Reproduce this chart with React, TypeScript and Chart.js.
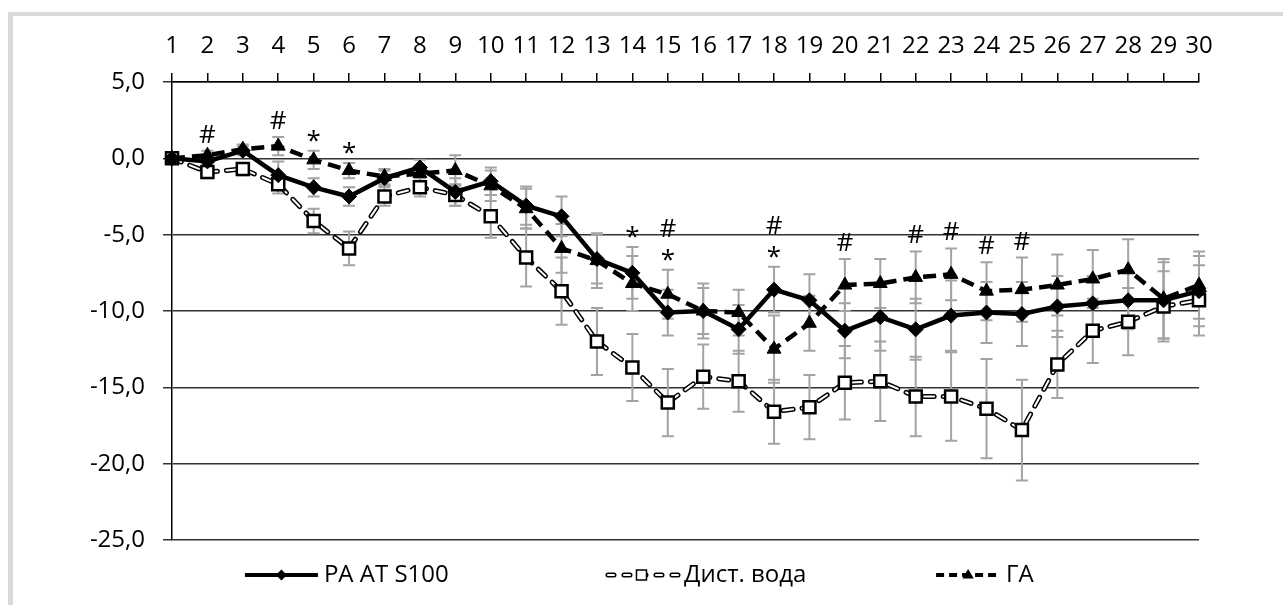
import React, { useEffect, useRef } from 'react';
import { Chart, registerables } from 'chart.js';

Chart.register(...registerables);

const categories = ['1', '2', '3', '4', '5', '6', '7', '8', '9', '10', '11', '12', '13', '14', '15', '16', '17', '18', '19', '20', '21', '22', '23', '24', '25', '26', '27', '28', '29', '30'];

const paValues = [0, -0.2, 0.5, -1.1, -1.9, -2.5, -1.3, -0.6, -2.2, -1.5, -3.1, -3.8, -6.6, -7.5, -10.1, -10.0, -11.2, -8.6, -9.3, -11.3, -10.4, -11.2, -10.3, -10.1, -10.2, -9.7, -9.5, -9.3, -9.3, -8.7];
const paErrors = [0.1, 0.4, 0.3, 0.9, 0.6, 0.6, 0.5, 0.5, 0.9, 0.9, 1.25, 1.3, 1.6, 1.7, 1.5, 1.8, 1.6, 1.5, 1.7, 1.8, 2.2, 2.0, 2.3, 2.0, 2.1, 2.0, 1.8, 1.9, 2.5, 2.3];

const distValues = [0, -0.9, -0.7, -1.7, -4.1, -5.9, -2.5, -1.9, -2.4, -3.8, -6.5, -8.7, -12.0, -13.7, -16.0, -14.3, -14.6, -16.6, -16.3, -14.7, -14.6, -15.6, -15.6, -16.4, -17.8, -13.5, -11.3, -10.7, -9.7, -9.3];
const distErrors = [0.1, 0.4, 0.4, 0.6, 0.8, 1.1, 0.6, 0.6, 0.7, 1.4, 1.9, 2.2, 2.2, 2.2, 2.2, 2.1, 2.0, 2.1, 2.1, 2.4, 2.6, 2.6, 2.9, 3.25, 3.3, 2.2, 2.1, 2.2, 2.3, 2.3];

const gaValues = [0, 0.2, 0.6, 0.8, -0.1, -0.8, -1.2, -1.0, -0.8, -1.8, -3.3, -5.9, -6.7, -8.2, -8.9, -10.0, -10.1, -12.5, -10.8, -8.3, -8.2, -7.8, -7.6, -8.7, -8.6, -8.3, -7.9, -7.3, -9.2, -8.3];
const gaErrors = [0.1, 0.3, 0.3, 0.6, 0.6, 0.5, 0.5, 0.5, 1.0, 1.0, 1.3, 1.6, 1.8, 1.8, 1.6, 1.5, 1.5, 2.2, 1.8, 1.7, 1.6, 1.7, 1.7, 1.9, 2.1, 2.0, 1.9, 2.0, 2.6, 2.2];

const hashMarks = ['2', '4', '15', '18', '20', '22', '23', '24', '25'];
const starMarks = ['5', '6', '14', '15', '18'];

const seriesNames = ['PA AT S100', 'Дист. вода', 'ГА'];

const yMin = -25;
const yMax = 5;
const yStep = 5;

const FONT = '"Open Sans", "Noto Sans", sans-serif';

function drawMarker(ctx: CanvasRenderingContext2D, kind: string, x: number, y: number, r: number) {
  ctx.save();
  ctx.setLineDash([]);
  ctx.beginPath();
  if (kind === 'diamond') {
    ctx.moveTo(x, y - r);
    ctx.lineTo(x + r, y);
    ctx.lineTo(x, y + r);
    ctx.lineTo(x - r, y);
    ctx.closePath();
    ctx.fillStyle = '#000';
    ctx.fill();
  } else if (kind === 'square') {
    ctx.rect(x - r, y - r, 2 * r, 2 * r);
    ctx.fillStyle = '#fff';
    ctx.fill();
    ctx.lineWidth = 1.5;
    ctx.strokeStyle = '#000';
    ctx.stroke();
  } else {
    ctx.moveTo(x, y - r);
    ctx.lineTo(x + r * 0.95, y + r * 0.6);
    ctx.lineTo(x - r * 0.95, y + r * 0.6);
    ctx.closePath();
    ctx.fillStyle = '#000';
    ctx.fill();
  }
  ctx.restore();
}

const errorBarsPlugin = {
  id: 'errorBars',
  beforeDatasetsDraw(chart: any) {
    const { ctx, scales } = chart;
    const x = scales.x;
    const y = scales.y;
    const series: [number[], number[]][] = [
      [distValues, distErrors],
      [gaValues, gaErrors],
      [paValues, paErrors],
    ];
    ctx.save();
    ctx.strokeStyle = '#a3a3a3';
    ctx.lineWidth = 2;
    series.forEach(([vals, errs]) => {
      vals.forEach((v, i) => {
        const px = x.getPixelForValue(i);
        const top = y.getPixelForValue(v + errs[i]);
        const bot = y.getPixelForValue(v - errs[i]);
        ctx.beginPath();
        ctx.moveTo(px, top);
        ctx.lineTo(px, bot);
        ctx.moveTo(px - 6, top);
        ctx.lineTo(px + 6, top);
        ctx.moveTo(px - 6, bot);
        ctx.lineTo(px + 6, bot);
        ctx.stroke();
      });
    });
    ctx.restore();
  },
};

const marksPlugin = {
  id: 'sigMarks',
  afterDatasetsDraw(chart: any) {
    const { ctx, scales } = chart;
    const x = scales.x;
    const y = scales.y;
    ctx.save();
    ctx.fillStyle = '#000';
    ctx.textAlign = 'center';
    ctx.textBaseline = 'alphabetic';
    ctx.font = `26px ${FONT}`;
    categories.forEach((c, i) => {
      const syms: string[] = [];
      if (starMarks.includes(c)) syms.push('*');
      if (hashMarks.includes(c)) syms.push('#');
      if (!syms.length) return;
      const top = Math.max(paValues[i] + paErrors[i], gaValues[i] + gaErrors[i], distValues[i] + distErrors[i]);
      const px = x.getPixelForValue(i);
      const base = y.getPixelForValue(top) - 17;
      syms.forEach((s, k) => {
        const cy = base - k * 25;
        ctx.fillText(s, px, cy + (s === '#' ? 9 : 15));
      });
    });
    ctx.restore();
  },
};

const legendPlugin = {
  id: 'customLegend',
  afterDraw(chart: any) {
    const { ctx, chartArea } = chart;
    const w = chartArea.right - chartArea.left;
    const ly = chartArea.bottom + 35;
    const starts = [0.071, 0.4216, 0.744];
    const lens = [73, 73, 64];
    ctx.save();
    ctx.font = `24px ${FONT}`;
    ctx.fillStyle = '#000';
    ctx.textBaseline = 'middle';
    ctx.textAlign = 'left';
    seriesNames.forEach((name, k) => {
      const sx = chartArea.left + w * starts[k];
      const ex = sx + lens[k];
      const mx = (sx + ex) / 2;
      ctx.save();
      if (k === 0) {
        ctx.strokeStyle = '#000';
        ctx.lineWidth = 4;
        ctx.beginPath();
        ctx.moveTo(sx, ly);
        ctx.lineTo(ex, ly);
        ctx.stroke();
        drawMarker(ctx, 'diamond', mx, ly, 5.5);
      } else if (k === 1) {
        ctx.lineCap = 'round';
        ctx.setLineDash([6, 10]);
        ctx.strokeStyle = '#000';
        ctx.lineWidth = 5;
        ctx.beginPath();
        ctx.moveTo(sx + 3, ly);
        ctx.lineTo(ex, ly);
        ctx.stroke();
        ctx.strokeStyle = '#fff';
        ctx.lineWidth = 2;
        ctx.beginPath();
        ctx.moveTo(sx + 3, ly);
        ctx.lineTo(ex, ly);
        ctx.stroke();
        drawMarker(ctx, 'square', mx, ly, 5);
      } else {
        ctx.setLineDash([8, 5]);
        ctx.strokeStyle = '#000';
        ctx.lineWidth = 4;
        ctx.beginPath();
        ctx.moveTo(sx, ly);
        ctx.lineTo(ex, ly);
        ctx.stroke();
        drawMarker(ctx, 'triangle', mx, ly, 6);
      }
      ctx.restore();
      ctx.fillText(name, ex + 6, ly);
    });
    ctx.restore();
  },
};

export default function App() {
  const canvasRef = useRef<HTMLCanvasElement | null>(null);

  useEffect(() => {
    if (!canvasRef.current) return;
    const chart = new Chart(canvasRef.current, {
      type: 'line',
      data: {
        labels: categories,
        datasets: [
          {
            label: seriesNames[0],
            data: paValues,
            borderColor: '#000',
            borderWidth: 4.5,
            tension: 0,
            pointStyle: 'rectRot',
            pointRadius: 7.5,
            pointBackgroundColor: '#000',
            pointBorderColor: '#000',
            pointBorderWidth: 1,
            order: 0,
            clip: false,
          },
          {
            label: seriesNames[2],
            data: gaValues,
            borderColor: '#000',
            borderWidth: 4.5,
            borderDash: [13, 7],
            tension: 0,
            pointStyle: 'triangle',
            pointRadius: 8,
            pointBackgroundColor: '#000',
            pointBorderColor: '#000',
            pointBorderWidth: 1,
            order: 1,
            clip: false,
          },
          {
            label: seriesNames[1] + ' markers',
            data: distValues,
            showLine: false,
            pointStyle: 'rect',
            pointRadius: 8.5,
            pointBackgroundColor: '#fff',
            pointBorderColor: '#000',
            pointBorderWidth: 2.5,
            order: 2,
            clip: false,
          },
          {
            label: seriesNames[1] + ' inner',
            data: distValues,
            borderColor: '#fff',
            borderWidth: 2,
            borderDash: [10, 9],
            borderCapStyle: 'round',
            tension: 0,
            pointRadius: 0,
            order: 3,
            clip: false,
          },
          {
            label: seriesNames[1],
            data: distValues,
            borderColor: '#000',
            borderWidth: 5,
            borderDash: [10, 9],
            borderCapStyle: 'round',
            tension: 0,
            pointRadius: 0,
            order: 4,
            clip: false,
          },
        ] as any,
      },
      options: {
        responsive: false,
        animation: false,
        events: [],
        layout: { padding: { left: 0, top: 0, right: 84, bottom: 65 } },
        plugins: {
          legend: { display: false },
          tooltip: { enabled: false },
        },
        scales: {
          x: {
            type: 'category',
            position: 'top',
            offset: false,
            afterFit: (scale: any) => {
              scale.height = 82;
            },
            grid: {
              drawOnChartArea: false,
              drawTicks: true,
              tickLength: 9,
              color: '#000',
              lineWidth: 1.5,
            },
            border: { display: true, color: '#000', width: 1.5 },
            ticks: {
              color: '#000',
              font: { family: FONT, size: 24 },
              padding: 12,
              maxRotation: 0,
              autoSkip: false,
            },
          },
          y: {
            type: 'linear',
            min: yMin,
            max: yMax,
            afterFit: (scale: any) => {
              scale.width = 172;
            },
            grid: {
              drawOnChartArea: true,
              drawTicks: true,
              tickLength: 9,
              color: '#333',
              lineWidth: 1.5,
            },
            border: { display: true, color: '#000', width: 1.5 },
            ticks: {
              stepSize: yStep,
              color: '#000',
              font: { family: FONT, size: 24 },
              padding: 18,
              callback: (v: any) => Number(v).toFixed(1).replace('.', ','),
            },
          },
        },
      } as any,
      plugins: [errorBarsPlugin, marksPlugin, legendPlugin],
    });
    return () => chart.destroy();
  }, []);

  return (
    <div style={{ position: 'fixed', left: 0, top: 0, width: 1283, height: 605, background: '#fff', overflow: 'hidden' }}>
      <div
        style={{
          position: 'absolute',
          left: 8,
          top: 12,
          right: 0,
          bottom: 0,
          borderLeft: '5px solid #d9d9d9',
          borderTop: '4px solid #d9d9d9',
        }}
      />
      <canvas ref={canvasRef} width={1283} height={605} style={{ position: 'absolute', left: 0, top: 0, display: 'block' }} />
    </div>
  );
}
